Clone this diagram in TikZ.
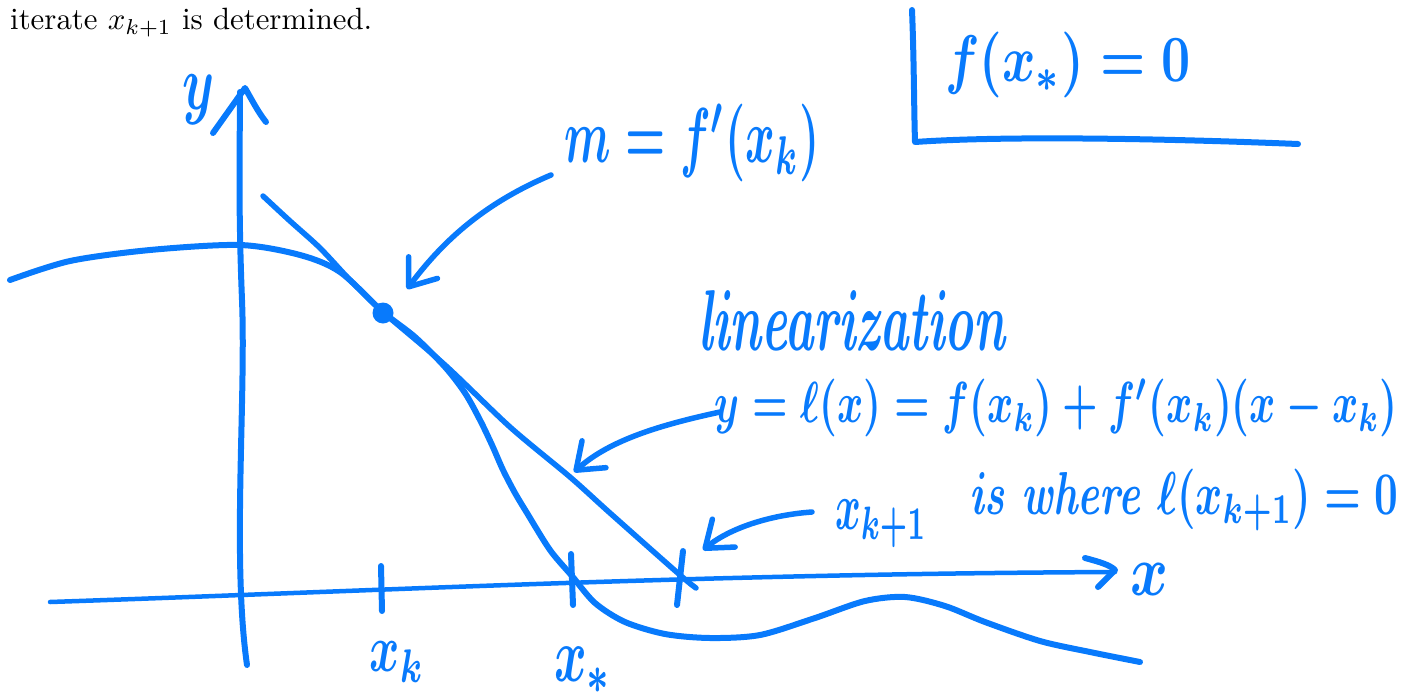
\documentclass[tikz,border=0pt]{standalone}
\usetikzlibrary{arrows.meta}
\definecolor{ink}{RGB}{8,122,252}
\newcommand\hwbox[2]{\resizebox{#1}{!}{#2}}
\newcommand\hwfit[3]{\resizebox*{#1}{#2}{#3}}
\begin{document}
\begin{tikzpicture}[x=1pt,y=-1pt,
  inkline/.style={draw=ink,line width=6pt,line cap=round,line join=round},
  thinink/.style={draw=ink,line width=4.5pt,line cap=round,line join=round},
  pointer/.style={draw=ink,line width=5.5pt,line cap=round,line join=round,-{Straight Barb[length=24pt,width=36pt,round]}},
  lbl/.style={text=ink,inner sep=0pt,font=\boldmath}]
\useasboundingbox (0,0) rectangle (1407,696);

% caption text from page
\node[anchor=base west,inner sep=0pt] (cap) at (10,30) {\hwbox{362pt}{iterate $x_{k+1}$ is determined.}};

% box for f(x_*)=0
\coordinate (b1) at (912,10);
\coordinate (b2) at (915,142);
\coordinate (b3) at (1298,144);
\draw[inkline] (b1) .. controls (914,60) and (914,110) .. (b2) .. controls (1000,136) and (1150,138) .. (b3);
\node[lbl] (froot) at (1068,65) {\hwfit{246pt}{66pt}{$f(x_*)=0$}};

% y-axis
\coordinate (ya) at (247,665);
\coordinate (yb) at (240,92);
\draw[inkline] (ya) .. controls (232,560) and (246,400) .. (242,300) .. controls (238,200) and (240,140) .. (yb);
\coordinate (yt1) at (213,133);
\coordinate (yt2) at (245,88);
\coordinate (yt3) at (266,122);
\draw[inkline] (yt1) -- (yt2) .. controls (252,100) and (258,112) .. (yt3);
\node[lbl] (ylab) at (199,100) {\hwfit{32pt}{50pt}{$y$}};

% x-axis
\coordinate (xa) at (50,602);
\coordinate (xb) at (1115,572);
\draw[thinink] (xa) .. controls (400,590) and (700,574) .. (xb);
\coordinate (xt1) at (1085,558);
\coordinate (xt2) at (1115,570);
\coordinate (xt3) at (1098,587);
\draw[inkline] (xt1) .. controls (1100,562) and (1110,565) .. (xt2) -- (xt3);
\node[lbl] (xlab) at (1149,579) {\hwfit{38pt}{32pt}{$x$}};

% the function
\draw[inkline] plot[smooth,tension=0.5] coordinates {
 (10,280) (70,261) (150,250) (240,245) (300,255) (340,272) (383,312)
 (415,337) (445,367) (465,393) (480,420) (492,445) (503,470) (515,493)
 (527,513) (550,550) (572,576) (595,603)
 (625,622) (665,634) (710,638) (760,635) (815,618) (865,601) (905,597)
 (945,606) (985,622) (1040,641) (1090,652) (1140,662)};

% tangent line (linearization)
\coordinate (ta) at (263,196);
\coordinate (tb) at (696,588);
\draw[inkline,line width=5.5pt] plot[smooth,tension=0.5] coordinates {
 (263,196) (290,221) (320,248) (350,280) (383,312) (445,365) (510,427)
 (570,477) (610,513) (680,575) (696,588)};

% point (x_k, f(x_k))
\node[circle,fill=ink,inner sep=0pt,minimum size=21pt] (p) at (383,313) {};

% ticks
\coordinate (k1) at (381,566);
\coordinate (k2) at (382,611);
\draw[inkline] (k1) -- (k2);
\coordinate (s1) at (571,554);
\coordinate (s2) at (573,605);
\draw[inkline] (s1) -- (s2);
\coordinate (r1) at (683,551);
\coordinate (r2) at (677,605);
\draw[inkline] (r1) -- (r2);

% tick labels
\node[lbl] (xk) at (397,662) {\hwfit{55pt}{40pt}{$x_k$}};
\node[lbl] (xs) at (583,670) {\hwfit{58pt}{46pt}{$x_*$}};
\node[lbl] (xk1) at (881,524) {\hwfit{92pt}{48pt}{$x_{k+1}$}};

% slope label and pointer
\node[lbl] (mlab) at (692,143) {\hwfit{255pt}{78pt}{$m=f'(x_k)$}};
\coordinate (m0) at (551,175);
\coordinate (m1) at (407,289);
\draw[pointer] (m0) .. controls (480,205) and (440,245) .. (m1);

% linearization labels and pointer
\node[lbl] (lin) at (854,320) {\hwfit{312pt}{60pt}{$\mathit{linearization}$}};
\node[lbl] (leq) at (1056,408) {\hwfit{683pt}{58pt}{$y=\ell(x)=f(x_k)+f'(x_k)(x-x_k)$}};
\coordinate (l0) at (720,412);
\coordinate (l1) at (574,472);
\draw[pointer] (l0) .. controls (660,425) and (610,440) .. (l1);

% root of linearization
\node[lbl] (where) at (1184,500) {\hwfit{428pt}{62pt}{$\mathit{is\ where}\ \ell(x_{k+1})=0$}};
\coordinate (w0) at (812,512);
\coordinate (w1) at (703,550);
\draw[pointer] (w0) .. controls (770,515) and (730,528) .. (w1);
\end{tikzpicture}
\end{document}
